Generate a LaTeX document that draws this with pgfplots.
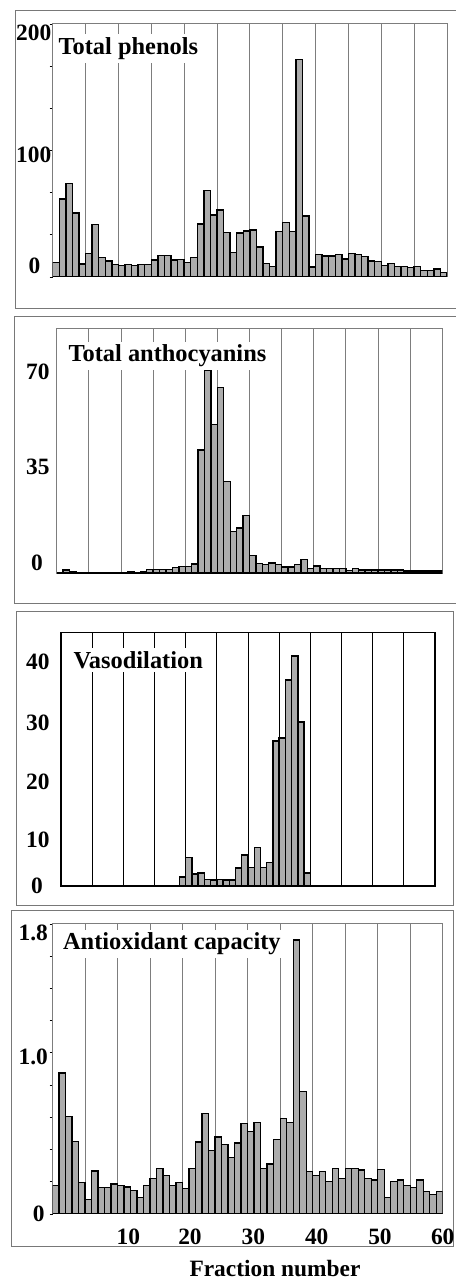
\documentclass[border=0pt]{standalone}
\usepackage{fontspec}
\setmainfont{Liberation Serif}
\usepackage{pgfplots}
\pgfplotsset{compat=1.18}
\definecolor{barfill}{RGB}{172,172,172}
\definecolor{gridc}{RGB}{125,125,125}
\definecolor{framec}{RGB}{120,120,120}

\pgfplotsset{
  panel/.style={
    scale only axis, anchor=south west,
    xmin=0.5, xmax=60.5, ymin=0,
    ybar, bar width=1, bar shift=0pt,
    xtick={5.5,10.5,...,55.5}, xticklabels={}, xmajorgrids,
    major grid style={gridc, line width=0.4pt},
    x tick style={draw=none},
    axis line style={gridc, line width=0.5pt},
    tick label style={font=\fontsize{11.7}{12}\selectfont\bfseries},
    yticklabels={},
    ytick pos=left,
    tick align=outside,
    y tick style={black, line width=0.4pt},
    major tick length=1.5pt,
  },
  bars/.style={fill=barfill, draw=black, line width=0.7pt},
}
\tikzset{ttl/.style={anchor=base west, fill=white, inner sep=1.5pt, font=\fontsize{12.2}{13}\selectfont\bfseries}}

\begin{document}
\begin{tikzpicture}
\path[use as bounding box] (0,0) rectangle (227.5pt,639.5pt);

% outer frames
\draw[framec, line width=0.4pt] (240pt,634.15pt) -- (7.5pt,634.15pt) -- (7.5pt,485.5pt) -- (240pt,485.5pt);
\draw[framec, line width=0.4pt] (240pt,481.5pt) -- (7pt,481.5pt) -- (7pt,338pt) -- (240pt,338pt);
\draw[framec, line width=0.4pt] (226.5pt,333.65pt) -- (8pt,333.65pt) -- (8pt,187pt) -- (226.5pt,187pt) -- cycle;
\draw[framec, line width=0.4pt] (5.5pt,184.5pt) rectangle (226.65pt,16.5pt);

% ---------- Panel 1: Total phenols
\begin{axis}[panel, at={(26.35pt,501pt)}, width=197.15pt, height=126.5pt, ymax=200,
  ytick={0,33.333,66.667,100,133.333,166.667,200},
  extra y ticks={8.7,96.4,192.9},
  extra y tick labels={{0\kern5.5pt},100,200},
  extra y tick style={major tick length=0pt, yticklabel style={anchor=east, inner sep=0pt, xshift=-0.5pt}},
]
\addplot[bars] coordinates {
(1,11.6) (2,61.6) (3,73.8) (4,50.5) (5,10.3) (6,18.5) (7,41.3) (8,15.6) (9,12.7) (10,10)
(11,9.3) (12,10) (13,9.3) (14,10) (15,10) (16,13.5) (17,17.2) (18,17.2) (19,13.5) (20,14)
(21,11.4) (22,15.3) (23,41.8) (24,68.5) (25,48.9) (26,52.9) (27,35.4) (28,19.3) (29,34.7) (30,36.5)
(31,37) (32,23.8) (33,10.6) (34,8.5) (35,36) (36,43.1) (37,36) (38,172) (39,48.1) (40,7.9)
(41,17.7) (42,16.7) (43,16.7) (44,17.7) (45,14.3) (46,18.5) (47,17.7) (48,16.4) (49,12.7) (50,12.4)
(51,9.3) (52,10.6) (53,8.2) (54,8.2) (55,7.4) (56,8.2) (57,5.3) (58,5.3) (59,6.3) (60,3.7)
};
\draw[black, line width=1pt] (rel axis cs:0,0) -- (rel axis cs:1,0);
\end{axis}
\node[ttl] at (27.6pt,612.3pt) {Total phenols};

% ---------- Panel 2: Total anthocyanins
\begin{axis}[panel, at={(28.35pt,352.85pt)}, width=192.8pt, height=122.5pt, ymax=90,
  ytick=\empty,
  extra y ticks={4.0,39.1,74.0},
  extra y tick labels={{0\kern3.35pt},35,70},
  extra y tick style={major tick length=0pt, yticklabel style={anchor=east, inner sep=0pt, xshift=-3.35pt}},
]
\addplot[bars] coordinates {
(2,1.2) (3,0.7) (12,0.6) (14,0.5)
(15,1.5) (16,1.5) (17,1.5) (18,1.5) (19,2.1) (20,2.6)
(21,2.6) (22,3.4) (23,45.3) (24,74.4) (25,54.7) (26,68.3) (27,33.8) (28,15.4) (29,16.6) (30,21.3)
(31,6.6) (32,3.7) (33,3.2) (34,3.8) (35,3.2) (36,2.3) (37,2.3) (38,3.3) (39,5.1) (40,1.7)
(41,2.7) (42,1.7) (43,1.7) (44,1.7) (45,1.7) (46,1.1) (47,1.8) (48,1.2) (49,1.2) (50,1.2)
(51,1.2) (52,1.2) (53,1.2) (54,1.2) (55,0.9) (56,0.9) (57,0.9) (58,0.9) (59,0.9) (60,0.9)
};
\draw[black, line width=1pt] (rel axis cs:0,0) -- (rel axis cs:1,0);
\end{axis}
\node[ttl] at (32.6pt,458.65pt) {Total anthocyanins};

% ---------- Panel 3: Vasodilation
\begin{axis}[panel, at={(30.5pt,196.5pt)}, width=187pt, height=126.65pt, ymax=42.64,
  major grid style={black, line width=0.45pt},
  axis line style={black, line width=0.6pt},
  ytick=\empty,
  extra y ticks={0,7.7,17.6,27.4,37.8},
  extra y tick labels={{0\kern3.35pt},10,20,30,40},
  extra y tick style={major tick length=0pt, yticklabel style={anchor=east, inner sep=0pt, xshift=-5.5pt}},
]
\addplot[bars] coordinates {
(20,1.5) (21,4.8) (22,2.0) (23,2.2) (24,1.1) (25,1.0) (26,1.1) (27,1.0) (28,1.0) (29,3.0)
(30,5.2) (31,3.1) (32,6.5) (33,3.1) (34,4.0) (35,24.4) (36,24.9) (37,34.7) (38,38.7) (39,27.6)
(40,2.2)
};
\draw[black, line width=1pt] (rel axis cs:0,0) -- (rel axis cs:1,0);
\draw[black, line width=1.2pt] (rel axis cs:1,0) -- (rel axis cs:1,1);
\end{axis}
\node[ttl] at (35.1pt,305.4pt) {Vasodilation};

% ---------- Panel 4: Antioxidant capacity
\begin{axis}[panel, at={(26.35pt,32.5pt)}, width=195pt, height=145pt, ymax=1.8,
  ytick={0,0.2,...,1.8},
  extra y ticks={0,0.976,1.742},
  extra y tick labels={{0\kern1.65pt},1.0,1.8},
  extra y tick style={major tick length=0pt, yticklabel style={anchor=east, inner sep=0pt, xshift=-2.2pt}},
  extra x ticks={12.13,21.62,31.36,41.12,50.85,60.5},
  extra x tick labels={10,20,30,40,50,60},
  extra x tick style={grid=none, major tick length=0pt, xticklabel style={anchor=north, inner sep=0pt, yshift=-7.15pt}},
]
\addplot[bars] coordinates {
(1,0.176) (2,0.876) (3,0.606) (4,0.450) (5,0.195) (6,0.091) (7,0.266) (8,0.166) (9,0.166) (10,0.185)
(11,0.176) (12,0.168) (13,0.147) (14,0.104) (15,0.176) (16,0.222) (17,0.284) (18,0.239) (19,0.176) (20,0.195)
(21,0.158) (22,0.284) (23,0.448) (24,0.623) (25,0.394) (26,0.477) (27,0.432) (28,0.349) (29,0.440) (30,0.560)
(31,0.513) (32,0.569) (33,0.284) (34,0.311) (35,0.461) (36,0.594) (37,0.569) (38,1.70) (39,0.760) (40,0.264)
(41,0.239) (42,0.264) (43,0.201) (44,0.284) (45,0.222) (46,0.284) (47,0.284) (48,0.274) (49,0.222) (50,0.210)
(51,0.276) (52,0.102) (53,0.201) (54,0.212) (55,0.176) (56,0.166) (57,0.210) (58,0.139) (59,0.122) (60,0.139)
};
\draw[black, line width=1pt] (rel axis cs:0,0) -- (rel axis cs:1,0);
\end{axis}
\node[ttl] at (29.85pt,164.6pt) {Antioxidant capacity};

\node[anchor=base, inner sep=0pt, font=\fontsize{11.7}{12}\selectfont\bfseries] at (137.5pt,1.3pt) {Fraction number};
\end{tikzpicture}
\end{document}
